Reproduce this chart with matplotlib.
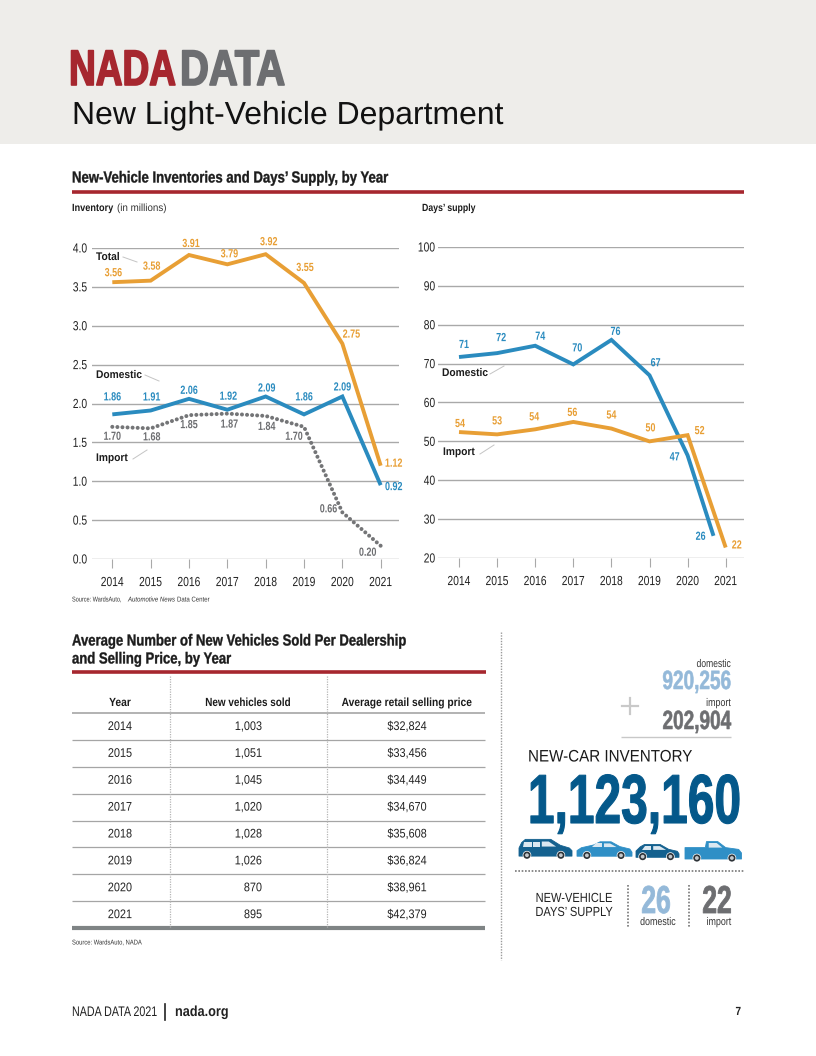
import matplotlib
matplotlib.use("Agg")
import matplotlib.pyplot as plt
import matplotlib.patheffects as pe
from matplotlib.patches import Polygon, Circle, Rectangle
from matplotlib.transforms import Affine2D

plt.rcParams["font.family"] = ["Liberation Sans", "DejaVu Sans"]

RED, GRAY, ORANGE, BLUE = "#a6272f", "#6d6e71", "#e89f35", "#2a8bbf"
NAVY, LBLUE, INK, GRID = "#04588a", "#94b9d9", "#1c1c1c", "#a9a9a9"

years = [2014, 2015, 2016, 2017, 2018, 2019, 2020, 2021]

# inventory, as the lines sit in the picture / as they are labelled
total = [3.56, 3.58, 3.91, 3.79, 3.92, 3.55, 2.77, 1.20]
domestic = [1.86, 1.91, 2.06, 1.92, 2.09, 1.86, 2.09, 0.95]
imports = [1.70, 1.68, 1.85, 1.87, 1.84, 1.70, 0.60, 0.17]
total_lbl = ["3.56", "3.58", "3.91", "3.79", "3.92", "3.55", "2.75", "1.12"]
domestic_lbl = ["1.86", "1.91", "2.06", "1.92", "2.09", "1.86", "2.09", "0.92"]
imports_lbl = ["1.70", "1.68", "1.85", "1.87", "1.84", "1.70", "0.66", "0.20"]

# days' supply (the domestic line stops short of 2021)
days_x = [2014, 2015, 2016, 2017, 2018, 2019, 2020, 2020.68]
days_dom = [71.7, 72.7, 74.6, 69.8, 76.1, 67.0, 46.4, 25.7]
days_imp = [52.4, 51.8, 53.1, 55.0, 53.3, 50.0, 51.6, 22.7]
days_dom_lbl = ["71", "72", "74", "70", "76", "67", "47", "26"]
days_imp_lbl = ["54", "53", "54", "56", "54", "50", "52", "22"]

inv_ticks = [0.0, 0.5, 1.0, 1.5, 2.0, 2.5, 3.0, 3.5, 4.0]
day_ticks = [20, 30, 40, 50, 60, 70, 80, 90, 100]

sold = ["1,003", "1,051", "1,045", "1,020", "1,028", "1,026", "870", "895"]
price = ["$32,824", "$33,456", "$34,449", "$34,670", "$35,608", "$36,824", "$38,961", "$42,379"]

# label offsets in pixels from the point they belong to
OFF_TOTAL = [(1, 9), (1, 14), (2, 11), (2, 10), (3, 12), (1, 15), (9, 9), (13, 2)]
OFF_DOM = [(0, 17), (1, 13), (0, 8), (1, 13), (1, 8), (0, 17), (0, 9), (13, -2)]
OFF_IMP = [(0, -10), (1, -9), (0, -10), (2, -11), (1, -11), (-10, -10), (-14, 3), (-13, -7)]
OFF_DDOM = [(5, 12), (4, 15), (5, 9), (4, 16), (4, 8), (6, 12), (-13, -2), (-13, -1)]
OFF_DIMP = [(1, 8), (0, 13), (-1, 12), (-1, 9), (0, 13), (1, 13), (12, 4), (11, 2)]


class Squeeze(pe.AbstractPathEffect):
    """Scale glyphs horizontally about the text's anchor: no condensed face is installed."""
    def __init__(self, text, sx, bold=0):
        super().__init__()
        self.text, self.sx, self.bold = text, sx, bold

    def draw_path(self, renderer, gc, tpath, affine, rgbFace=None):
        x0 = self.text.get_transform().transform(self.text.get_unitless_position())[0]
        aff = affine + Affine2D().translate(-x0, 0).scale(self.sx, 1).translate(x0, 0)
        gc0 = renderer.new_gc()
        gc0.copy_properties(gc)
        if self.bold:
            gc0.set_linewidth(self.bold)
            gc0.set_foreground(rgbFace)
        renderer.draw_path(gc0, tpath, aff, rgbFace)
        gc0.restore()


def narrow(t, sx, bold=0):
    t.set_path_effects([Squeeze(t, sx, bold)])
    return t


fig = plt.figure(figsize=(8.16, 10.56), dpi=100, facecolor="white")
page = fig.add_axes([0, 0, 1, 1])
page.set_xlim(0, 816); page.set_ylim(1056, 0); page.axis("off")


def txt(x, y, s, size, color=INK, weight="normal", ha="left", sx=1.0, bold=0, **kw):
    t = page.text(x, y, s, fontsize=size, color=color, weight=weight, ha=ha, va="center", **kw)
    return narrow(t, sx, bold)


def hline(y, x0, x1, color=GRID, lw=1.0, **kw):
    page.plot([x0, x1], [y, y], color=color, lw=lw, solid_capstyle="butt", **kw)


def vdots(x, y0, y1, color="#9a9a9a", lw=1.0):
    page.plot([x, x], [y0, y1], color=color, lw=lw, ls=(0, (1, 1)))


# ---------------------------------------------------------------- page furniture
page.add_patch(Rectangle((0, 0), 816, 144, color="#eeedea", lw=0))
txt(176, 72, "NADA", 36, RED, "bold", ha="right", sx=0.74, bold=1.2)
txt(180, 72, "DATA", 36, GRAY, "bold", sx=0.80, bold=1.2)
txt(72, 116, "New Light-Vehicle Department", 23, "#111111")

txt(72, 178, "New-Vehicle Inventories and Days\u2019 Supply, by Year", 11.5, INK, "bold", sx=0.824, bold=0.25)
hline(192, 72, 744, RED, 2.6)
txt(72, 208, "Inventory", 7.5, INK, "bold", sx=0.88)
txt(117, 208, "(in millions)", 7.5, "#333333", sx=0.94)
txt(422, 208, "Days\u2019 supply", 7.5, INK, "bold", sx=0.84)
txt(72, 600, "Source: WardsAuto,", 5, "#333333", sx=0.8)
txt(128, 600, "Automotive News", 5, "#333333", style="italic", sx=0.87)
txt(177, 600, "Data Center", 5, "#333333", sx=0.87)

txt(72, 641, "Average Number of New Vehicles Sold Per Dealership", 11.5, INK, "bold", sx=0.82, bold=0.25)
txt(72, 659, "and Selling Price, by Year", 11.5, INK, "bold", sx=0.82, bold=0.25)
hline(672, 72, 486, RED, 2.6)
txt(72, 943, "Source: WardsAuto, NADA", 5, "#333333", sx=0.84)

vdots(501, 632, 960)
txt(72, 1012, "NADA DATA 2021", 10, "#222222", sx=0.77)
page.plot([165, 165], [1004, 1020], color="#222222", lw=1.2)
txt(175, 1012, "nada.org", 10.5, "#222222", "bold", sx=0.87)
txt(741, 1012, "7", 8.5, "#222222", "bold", ha="right", sx=0.85)


# ---------------------------------------------------------------- charts
def chart(px0, px1, py_top, py_bot, ticks, xlim, ypad):
    ax = fig.add_axes([px0 / 816, 1 - py_bot / 1056, (px1 - px0) / 816, (py_bot - py_top) / 1056])
    ax.patch.set_alpha(0)
    ax.set_xlim(*xlim); ax.set_ylim(ticks[0], ticks[-1])
    for sp in ax.spines.values():
        sp.set_visible(False)
    ax.set_yticks(ticks)
    ax.yaxis.grid(True, color=GRID, lw=1.0)
    ax.set_axisbelow(True)
    ax.set_xticks(years)
    ax.tick_params(axis="x", length=6.5, color=GRID, width=0.8, pad=6.5, labelsize=9.5, labelcolor="#222222")
    ax.tick_params(axis="y", length=0, pad=ypad, labelsize=9.5, labelcolor="#222222")
    return ax


def tidy_ticks(ax):
    for lb in ax.get_xticklabels() + ax.get_yticklabels():
        narrow(lb, 0.78)


def labels(ax, xs, ys, texts, offs, color):
    for x, y, s, (dx, dy) in zip(xs, ys, texts, offs):
        t = ax.annotate(s, (x, y), xytext=(dx, dy), textcoords="offset pixels", color=color,
                        fontsize=8.5, weight="bold", ha="center", va="center", annotation_clip=False)
        narrow(t, 0.76)


# x limits chosen so the years land on the picture's pixel columns
step_l = (380.7 - 112.3) / 7
ax1 = chart(92, 399, 248, 559, inv_ticks,
            (2014 - (112.3 - 92) / step_l, 2021 + (399 - 380.7) / step_l), 3.5)
ax1.set_yticklabels(["%.1f" % v for v in inv_ticks])
ax1.plot(years, imports, color="#747577", lw=2.9, ls=(0, (0.01, 1.25)), dash_capstyle="round", clip_on=False)
ax1.plot(years, domestic, color=BLUE, lw=2.8, solid_joinstyle="miter", solid_capstyle="butt", clip_on=False)
ax1.plot(years, total, color=ORANGE, lw=2.8, solid_joinstyle="miter", solid_capstyle="butt", clip_on=False)
labels(ax1, years, total, total_lbl, OFF_TOTAL, ORANGE)
labels(ax1, years, domestic, domestic_lbl, OFF_DOM, BLUE)
labels(ax1, years, imports, imports_lbl, OFF_IMP, GRAY)
tidy_ticks(ax1)

step_r = (725.7 - 459) / 7
ax2 = chart(438, 744, 247, 558, day_ticks,
            (2014 - (459 - 438) / step_r, 2021 + (744 - 725.7) / step_r), 2)
ax2.plot(days_x, days_dom, color=BLUE, lw=2.8, solid_joinstyle="miter", solid_capstyle="butt", clip_on=False)
ax2.plot(years, days_imp, color=ORANGE, lw=2.8, solid_joinstyle="miter", solid_capstyle="butt", clip_on=False)
labels(ax2, days_x, days_dom, days_dom_lbl, OFF_DDOM, BLUE)
labels(ax2, years, days_imp, days_imp_lbl, OFF_DIMP, ORANGE)
tidy_ticks(ax2)

# series names with their thin leaders
for x, y, s, lead in [(96, 257, "Total", (123, 257, 137, 262)),
                      (96, 375, "Domestic", (145, 375, 159, 381)),
                      (96, 458, "Import", (133, 459, 147, 450)),
                      (442, 373, "Domestic", (490, 374, 504, 366)),
                      (443, 452, "Import", (480, 454, 494, 445))]:
    txt(x, y, s, 8, INK, "bold", sx=0.92)
    page.plot(lead[::2], lead[1::2], color="#c4c4c4", lw=0.7)

# ---------------------------------------------------------------- table
row_h = (928 - 713) / len(years)
hline(713, 72, 485, "#a5a5a5", 1.2)
for i in range(1, len(years)):
    hline(713 + i * row_h, 72, 485, "#a5a5a5", 0.9)
hline(928, 72, 485, "#7f8485", 3)
for x in (170, 327):
    vdots(x, 676, 927, "#b5b5b5", 0.9)
txt(120, 703, "Year", 8.5, INK, "bold", ha="center", sx=0.87)
txt(248, 703, "New vehicles sold", 8.5, INK, "bold", ha="center", sx=0.84)
txt(407, 703, "Average retail selling price", 8.5, INK, "bold", ha="center", sx=0.87)
for i, (yr, n, p) in enumerate(zip(years, sold, price)):
    y = 727 + i * row_h
    txt(120, y, str(yr), 9, "#222222", ha="center", sx=0.87)
    txt(262, y, n, 9, "#222222", ha="right", sx=0.87)
    txt(407, y, p, 9, "#222222", ha="center", sx=0.87)

# ---------------------------------------------------------------- right panel
txt(731, 664, "domestic", 8, "#333333", ha="right", sx=0.77)
txt(731, 682, "920,256", 19, LBLUE, "bold", ha="right", sx=0.72, bold=0.4)
txt(731, 703, "import", 8, "#333333", ha="right", sx=0.8)
txt(731, 722, "202,904", 19, GRAY, "bold", ha="right", sx=0.72, bold=0.4)
page.plot([622, 638], [706, 706], color="#c9c9c9", lw=1.6)
page.plot([630, 630], [698, 714], color="#c9c9c9", lw=1.6)
hline(737, 621, 731, "#c8c8c8", 1.0)
txt(528, 757, "NEW-CAR INVENTORY", 12, "#1a1a1a", sx=0.91)
txt(634.5, 805, "1,123,160", 50, NAVY, "bold", ha="center", sx=0.69, bold=0.8)


def car(x0, y0, w, h, color, body, glass, wheels, wheel_v):
    """Small side-view vehicle from unit-box outlines."""
    pts = [(x0 + u * w, y0 + v * h) for u, v in body]
    page.add_patch(Polygon(pts, closed=True, facecolor=color, edgecolor=color, lw=0.6, joinstyle="round"))
    for win in glass:
        pts = [(x0 + u * w, y0 + v * h) for u, v in win]
        page.add_patch(Polygon(pts, closed=True, color="#dbe8f1", lw=0))
    for u in wheels:
        c = (x0 + u * w, y0 + wheel_v * h)
        page.add_patch(Circle(c, 4.3, color="#ffffff", lw=0, zorder=3))
        page.add_patch(Circle(c, 3.6, color="#2d3338", lw=0, zorder=3))
        page.add_patch(Circle(c, 1.9, color="#c3c8cc", lw=0, zorder=4))


MINIVAN = [(0, .95), (0, .5), (.05, .2), (.12, .02), (.6, .02), (.78, .35), (.95, .5), (1, .65), (1, .95)]
SEDAN = [(0, .95), (0, .6), (.08, .42), (.3, .25), (.42, .05), (.62, .05), (.78, .35), (.96, .5), (1, .7), (1, .95)]
HATCH = [(0, .95), (0, .5), (.1, .2), (.2, .03), (.56, .03), (.76, .38), (.96, .52), (1, .7), (1, .95)]
PICKUP = [(0, .9), (0, .33), (.36, .33), (.38, .03), (.58, .03), (.72, .33), (.95, .42), (1, .6), (1, .9)]
car(519, 839, 53, 18, "#14618f", MINIVAN,
    [[(.1, .14), (.24, .14), (.24, .42), (.08, .42)], [(.27, .14), (.4, .14), (.4, .42), (.27, .42)],
     [(.43, .14), (.56, .14), (.7, .42), (.43, .42)]], [.15, .79], .9)
car(577, 841, 55, 16, "#2f8fc6", SEDAN,
    [[(.34, .15), (.46, .15), (.46, .38), (.27, .38)], [(.49, .15), (.6, .15), (.72, .38), (.49, .38)]], [.18, .8], .9)
car(636, 844, 43, 14, "#14618f", HATCH,
    [[(.22, .15), (.36, .15), (.36, .42), (.14, .42)], [(.4, .15), (.55, .15), (.7, .42), (.4, .42)]], [.155, .8], .9)
car(685, 841, 56.5, 20, "#2f8fc6", PICKUP,
    [[(.42, .1), (.56, .1), (.66, .33), (.42, .33)]], [.21, .83], .85)

page.plot([515, 744], [871, 871], color="#777777", lw=1.2, ls=(0, (1, 1)))
txt(613, 899, "NEW-VEHICLE", 9.5, "#222222", ha="right", sx=0.84)
txt(613, 913, "DAYS\u2019 SUPPLY", 9.5, "#222222", ha="right", sx=0.84)
vdots(628, 885, 928, "#777777", 1.2)
vdots(689, 885, 928, "#777777", 1.2)
txt(656, 903, "26", 28, LBLUE, "bold", ha="center", sx=0.68, bold=0.6)
txt(717, 903, "22", 28, GRAY, "bold", ha="center", sx=0.68, bold=0.6)
txt(658, 922, "domestic", 8, "#333333", ha="center", sx=0.8)
txt(719, 922, "import", 8, "#333333", ha="center", sx=0.8)

fig.savefig("out.png", dpi=100, facecolor="white")
